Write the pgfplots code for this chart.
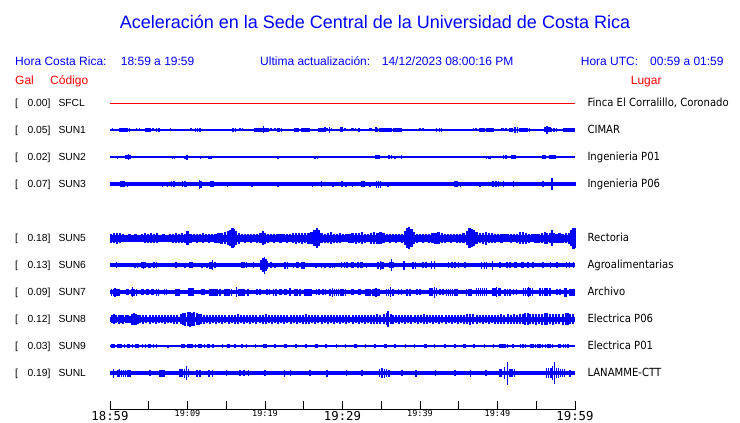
\documentclass[border=0pt]{standalone}
\usepackage{pgfplots}
\pgfplotsset{compat=1.18}
\usepackage{pgfplotstable}
\usepackage{fontspec}
\setmainfont{Liberation Sans}
\newfontfamily\rfont[FakeStretch=0.9]{DejaVu Sans}
\newfontfamily\tfont{DejaVu Sans Mono}
\newcommand\bigt[1]{\raisebox{0pt}[10.3pt][0pt]{\tfont\fontsize{12.3}{13}\selectfont #1}}
\newcommand\smt[1]{{\tfont\fontsize{8.5}{9}\selectfont #1}}

% half-amplitudes (px) of the bursts, time in minutes after 18:59
\pgfplotstableread[row sep=\\]{t a\\
0.3 1.5\\1.2 1.8\\1.4 1.8\\1.6 1.8\\1.8 1.8\\2.0 1.8\\2.2 1.7\\2.5 1.7\\3.45 1.5\\3.8 1.5\\4.6 1.8\\4.8 1.8\\5.0 1.8\\5.2 1.8\\5.55 1.5\\6.0 1.8\\6.3 1.8\\7.1 1.3\\7.8 1.5\\8.2 1.3\\8.9 1.3\\9.9 1.3\\10.45 1.5\\11.05 1.7\\11.3 1.7\\11.6 1.7\\12.5 1.4\\13.25 1.4\\13.85 1.4\\15.05 1.4\\15.9 1.7\\16.2 1.7\\16.8 1.5\\17.1 1.5\\17.75 1.4\\18.7 1.8\\18.95 1.8\\19.2 1.8\\19.4 1.8\\19.6 1.8\\19.8 3.5\\20.0 1.8\\20.2 1.8\\20.4 1.8\\20.7 1.5\\20.85 1.5\\21.3 1.5\\21.65 1.6\\21.9 1.6\\22.1 1.6\\22.45 1.4\\23.25 1.4\\23.4 1.4\\23.9 1.6\\24.1 1.6\\24.3 1.6\\24.75 1.8\\24.95 1.8\\25.15 1.8\\25.35 1.8\\25.55 1.8\\25.7 1.8\\26.2 1.3\\26.9 1.8\\27.1 1.8\\27.35 1.8\\27.5 1.8\\27.75 2.5\\28.0 1.5\\28.3 2.8\\28.6 1.5\\29.25 1.4\\29.8 2.5\\29.95 2.5\\30.3 1.5\\30.75 1.3\\31.2 1.5\\31.45 1.5\\31.7 1.5\\32.15 2.2\\32.7 1.3\\33.05 1.3\\33.55 1.5\\33.7 1.5\\34.3 2.5\\34.5 1.7\\34.8 1.7\\35.0 1.7\\35.2 1.6\\35.4 1.6\\35.6 1.6\\35.8 1.6\\36.0 1.6\\36.2 1.6\\36.35 1.6\\36.55 1.8\\36.75 1.8\\36.95 1.8\\37.15 1.8\\37.35 1.8\\37.55 1.8\\38.3 1.3\\38.6 1.3\\38.95 1.4\\39.3 1.4\\40.0 1.5\\40.4 1.5\\40.95 1.3\\41.3 1.3\\42.15 1.6\\42.5 1.6\\42.8 1.6\\43.45 1.3\\44.3 1.4\\44.6 1.4\\44.9 1.4\\45.4 1.3\\45.8 1.3\\46.0 1.3\\46.9 1.5\\47.2 1.5\\47.75 1.6\\47.95 1.6\\48.15 1.6\\48.35 1.6\\48.55 1.6\\48.75 1.6\\48.95 1.6\\49.15 1.6\\49.4 1.6\\50.55 1.5\\50.8 1.5\\51.1 1.5\\51.6 1.6\\51.9 1.6\\52.25 3\\52.6 3\\52.9 1.8\\53.15 1.8\\53.4 1.8\\53.65 1.8\\53.9 1.8\\54.15 1.8\\55.5 1.4\\55.9 1.4\\56.1 2.5\\56.4 4\\56.65 2.5\\56.85 2.5\\57.0 1.6\\57.3 1.6\\57.6 1.6\\58.05 1.3\\58.5 1.6\\58.7 1.6\\58.9 1.6\\59.1 1.6\\59.3 1.6\\59.5 1.6\\59.7 1.6\\59.9 1.6\\
}\sunone
\pgfplotstableread[row sep=\\]{t a\\
0.45 1.3\\0.95 1.5\\2.05 1.8\\2.3 1.8\\2.4 2.8\\2.6 1.8\\3.65 1.3\\8.05 1.5\\8.3 1.5\\9.7 1.5\\9.95 2.5\\10.55 1.3\\11.2 1.3\\11.7 1.5\\12.8 1.5\\13.0 1.5\\13.25 1.3\\13.55 1.3\\21.7 1.5\\25.7 1.3\\26.45 1.5\\26.75 1.5\\27.3 1.3\\28.8 1.3\\29.45 1.3\\29.95 1.3\\30.0 1.3\\34.3 1.8\\34.55 1.8\\34.8 1.8\\35.2 1.3\\36.0 1.8\\36.3 1.8\\36.8 1.5\\37.6 1.8\\48.2 1.3\\48.6 1.5\\48.9 1.5\\49.1 1.5\\49.5 1.3\\50.75 1.8\\51.1 1.8\\51.85 1.8\\52.1 1.8\\52.3 1.8\\55.85 1.8\\56.1 1.8\\56.8 1.8\\57.05 1.8\\57.3 1.8\\57.45 1.8\\58.3 1.3\\
}\suntwo
\pgfplotstableread[row sep=\\]{t a\\
1.4 3\\1.6 3\\1.8 3\\2.25 2.5\\6.75 2.5\\7.4 2.5\\7.95 2.8\\8.25 2.8\\9.35 3\\9.65 3\\9.9 2.5\\11.55 4.5\\11.75 3.5\\13.05 3\\13.3 3\\15.15 2.5\\18.35 2.5\\21.7 2.5\\26.1 2.5\\27.3 3\\28.8 2.5\\29.95 3\\30.45 2.5\\31.3 2.5\\32.5 2.8\\32.75 2.8\\33.55 2.5\\34.4 3.5\\34.65 3.5\\34.9 3.5\\35.9 2.5\\44.5 2.8\\44.8 2.8\\45.25 2.5\\47.75 2.5\\49.45 2.8\\49.8 2.8\\50.1 2.8\\50.75 2.8\\52.05 3\\55.9 3\\57.05 6\\57.4 2.3\\57.6 2.3\\57.8 2.3\\58.0 2.3\\58.2 2.3\\58.4 2.3\\58.6 2.3\\58.8 2.3\\59.0 2.3\\59.2 2.3\\59.4 2.3\\59.6 2.3\\59.8 2.3\\60.0 2.3\\
}\sunthree
\pgfplotstableread[row sep=\\]{t a\\
0.1 4.5\\0.5 5\\0.9 5.5\\1.3 5\\1.7 4\\2.1 3.5\\2.5 4\\2.9 3.5\\3.3 4\\3.7 3.5\\4.1 4\\4.5 5\\4.9 4.5\\5.3 5\\5.7 4.5\\6.1 5\\6.5 3.5\\6.9 4\\7.3 3.5\\7.7 4\\8.1 4.5\\8.5 5\\8.9 4.5\\9.3 5\\9.7 4.5\\10.0 7.3\\10.4 4.5\\10.8 4\\11.2 4.5\\11.6 4\\12.0 5\\12.4 4\\12.8 4.5\\13.2 4\\13.6 4.5\\14.0 5\\14.4 5.5\\14.8 6\\15.2 7\\15.5 8\\15.8 10\\16.0 9\\16.3 7\\16.6 5.5\\17.0 4\\17.4 4.5\\17.8 4\\18.2 4.5\\18.6 4\\19.0 4.5\\19.4 5\\19.7 7\\20.0 5.5\\20.4 4.5\\20.8 4\\21.2 4.5\\21.6 4\\22.0 4.5\\22.4 4\\22.8 4.5\\23.2 4\\23.6 5\\24.0 5.5\\24.4 5\\24.8 5.5\\25.2 5\\25.6 5.5\\26.0 6\\26.4 8\\26.7 10\\26.9 8\\27.3 5\\27.7 4.5\\28.1 5\\28.5 6\\28.9 4.5\\29.3 4.5\\29.7 5\\30.1 4\\30.5 4\\30.9 4.5\\31.3 5\\31.7 5.5\\32.1 5\\32.5 6\\32.9 4.5\\33.3 4\\33.7 5.5\\34.1 6\\34.5 5.5\\34.9 6\\35.3 5\\35.7 4\\36.1 4.5\\36.5 4\\36.9 4.5\\37.3 4\\37.7 4.5\\38.1 7\\38.4 10\\38.6 11\\38.9 9\\39.2 6\\39.6 4.5\\40.0 4\\40.4 4.5\\40.8 4\\41.2 4.5\\41.6 5\\42.0 5.5\\42.4 6\\42.8 5\\43.2 4.5\\43.6 4\\44.0 4.5\\44.4 4\\44.8 4.5\\45.2 4.5\\45.6 5\\46.1 7\\46.4 10\\46.7 9\\47.0 8\\47.3 6\\47.7 5\\48.1 5.5\\48.5 6.5\\48.9 5\\49.3 5\\49.7 4.5\\50.1 4\\50.5 4.5\\50.9 4\\51.3 4\\51.7 4.5\\52.1 4\\52.5 4.5\\52.9 6\\53.3 6\\53.7 5.5\\54.1 4.5\\54.5 4\\54.9 4.5\\55.3 4.5\\55.7 5\\56.1 6\\56.4 5.5\\56.8 5\\57.0 8\\57.3 5\\57.6 4.5\\58.0 5\\58.4 4.5\\58.8 5\\59.2 5.5\\59.5 8\\59.8 10.5\\60.0 10\\
}\sunfive
\pgfplotstableread[row sep=\\]{t a\\
0.86 3\\3.2 2.5\\3.55 2.5\\4.1 3\\4.3 3.5\\4.5 3\\4.95 2.5\\5.15 2.5\\5.7 3\\6.0 3\\8.5 3\\9.7 2.5\\10.3 3\\10.55 3\\11.9 2.5\\12.5 2.5\\12.9 3.5\\13.1 3.5\\13.2 5\\13.55 3\\17.0 3\\17.3 3\\17.6 3\\18.5 3\\19.5 5\\19.75 7\\19.95 8.5\\20.15 6\\20.35 4\\20.8 3\\21.3 2.5\\22.6 3.5\\22.9 3.5\\23.65 2.5\\24.1 3\\24.3 3\\24.75 3.5\\25.05 3.5\\26.55 2.5\\27.3 2.5\\27.75 2.5\\28.4 2.5\\28.7 2.5\\29.0 2.5\\29.9 3\\30.25 3\\30.55 3\\31.2 3\\31.4 3\\32.0 3\\32.3 3\\32.5 3\\33.1 2.5\\34.6 3.5\\34.9 4.5\\35.1 3.5\\35.25 3.5\\36.1 3\\36.35 6\\36.5 3\\37.95 4.5\\39.1 3.5\\39.4 3.5\\40.4 3\\40.8 3\\41.5 4\\41.9 4\\43.65 3\\44.1 3\\44.5 3\\44.95 3\\45.8 3\\47.95 3.5\\48.3 3.5\\48.6 3.5\\49.35 4.5\\50.3 3\\51.2 3\\51.6 3\\52.25 3\\52.45 3\\53.1 3\\53.3 3\\53.95 3\\54.6 3\\55.9 3\\56.85 3\\57.65 3\\58.9 3\\59.3 3\\59.8 3\\
}\sunsix
\pgfplotstableread[row sep=\\]{t a\\
0.2 3.5\\0.45 3.5\\0.65 4.5\\0.9 3.5\\1.15 3.5\\2.1 3\\2.35 3\\2.8 3.5\\2.9 5\\3.1 3.5\\3.4 3.5\\4.05 3\\4.25 3\\4.75 3\\4.9 3\\5.4 3\\5.6 3\\6.0 3.5\\6.25 3.5\\7.05 3\\7.3 3\\8.5 3.5\\8.7 3.5\\8.9 3.5\\10.1 4\\10.3 4\\10.5 4\\10.7 4\\11.85 3\\12.15 3\\12.9 3.5\\13.15 3.5\\13.4 3.5\\13.65 3.5\\13.9 3.5\\14.2 3.5\\14.85 3.5\\15.1 3.5\\15.35 3.5\\15.7 3.5\\16.35 5\\16.55 3.5\\16.8 3.5\\17.05 3.5\\17.3 3.5\\17.8 3.5\\18.95 3\\19.35 3\\20.25 3\\20.6 3\\21.1 3.5\\21.45 3.5\\21.95 3\\22.15 3\\22.6 3\\22.8 3\\23.2 4\\23.9 3.5\\24.15 3.5\\24.5 3.5\\25.15 3.5\\25.4 3.5\\25.65 3.5\\25.95 3.5\\26.65 3\\26.95 3\\27.5 3\\27.8 3\\28.4 3.5\\28.7 4.5\\28.95 3.5\\29.2 3.5\\29.5 3.5\\29.8 3.5\\30.05 3.5\\30.4 3.5\\31.2 3\\31.4 3\\32.05 3\\32.25 3\\33.05 3.5\\33.3 3.5\\33.55 3.5\\33.95 3.5\\34.2 3.5\\34.3 4.5\\34.55 3.5\\34.75 3.5\\35.7 3.5\\35.95 3.5\\36.2 5\\36.5 3.5\\37.2 3\\37.6 3\\38.3 3.5\\38.7 3.5\\39.6 3\\40.0 3\\41.3 4\\41.55 4\\41.85 5.5\\42.1 4\\42.6 3\\42.95 3\\43.45 3.5\\43.7 3.5\\43.95 3.5\\44.2 3.5\\44.5 3.5\\44.75 3.5\\46.0 3.5\\46.3 3.5\\46.6 3.5\\47.3 4\\47.55 4\\47.8 4\\48.05 4\\48.3 4\\48.6 4\\49.45 4\\49.7 4\\49.9 5\\50.1 4\\50.35 4\\51.0 3.5\\51.3 3.5\\51.6 3.5\\52.05 3\\52.45 3\\53.35 4\\53.6 4\\53.85 4\\54.0 5\\54.2 4\\54.5 4\\55.5 4\\55.8 4\\56.1 4\\56.4 4\\56.8 4\\57.65 3\\58.05 3\\58.7 4.5\\58.9 4.5\\59.35 3.5\\59.6 3.5\\59.85 3.5\\
}\sunseven
\pgfplotstableread[row sep=\\]{t a\\
0.2 4\\0.5 5\\0.8 4\\1.1 4.5\\1.4 4\\1.7 4.5\\2.0 4\\2.3 4\\2.6 3.5\\2.9 5.5\\3.1 6\\3.3 5.5\\3.6 4.5\\3.9 4\\4.3 4.5\\4.7 4\\5.1 4.5\\5.5 4\\5.9 4.5\\6.3 4\\6.7 4\\7.1 4.5\\7.5 4\\7.9 4\\8.3 4.5\\8.7 4.5\\9.1 5\\9.4 6\\9.7 6.5\\10.0 7\\10.3 7.5\\10.6 6.5\\10.9 7\\11.2 6\\11.5 5.5\\11.8 5\\12.1 4.5\\12.5 4\\12.9 4.5\\13.3 4\\13.7 4.5\\14.1 4\\14.5 4.5\\14.9 4\\15.3 4.5\\15.7 4\\16.1 4.5\\16.5 5\\16.9 4\\17.3 4.5\\17.7 4\\18.1 4.5\\18.5 4\\18.9 4.5\\19.3 4\\19.7 4.5\\20.1 5\\20.5 4\\20.9 4.5\\21.3 4\\21.7 4.5\\22.1 4\\22.5 4.5\\22.9 4\\23.3 4.5\\23.7 4\\24.1 4.5\\24.5 4\\24.9 4.5\\25.3 5\\25.7 4.5\\26.1 4\\26.5 4.5\\26.9 4\\27.3 4.5\\27.7 4\\28.1 4.5\\28.5 4\\28.9 4.5\\29.3 4\\29.7 4.5\\30.1 4\\30.5 4.5\\30.9 4\\31.3 4.5\\31.7 4\\32.1 4.5\\32.5 4\\32.9 4.5\\33.3 4\\33.7 4.5\\34.1 4.5\\34.5 5\\34.9 4.5\\35.3 5\\35.7 6\\35.9 8\\36.2 5\\36.5 4.5\\36.9 4\\37.3 4.5\\37.7 4\\38.1 4.5\\38.5 4\\38.9 4.5\\39.3 4\\39.7 4.5\\40.1 4\\40.5 5\\40.9 4.5\\41.3 4\\41.7 4.5\\42.1 4\\42.5 4.5\\42.9 4\\43.3 4.5\\43.7 4\\44.1 4.5\\44.5 4\\44.9 4.5\\45.3 4\\45.7 4.5\\46.1 5\\46.5 5.5\\46.9 5\\47.3 4.5\\47.7 4\\48.1 4.5\\48.5 4\\48.9 4.5\\49.3 4\\49.7 4.5\\50.1 4.5\\50.5 5\\50.9 4.5\\51.3 5\\51.7 4.5\\52.1 5\\52.5 4.5\\52.9 5\\53.3 5\\53.6 6\\53.9 6\\54.2 5\\54.6 5\\55.0 5.5\\55.4 5\\55.8 5.5\\56.1 6\\56.4 6\\56.8 5\\57.2 5.5\\57.6 5\\58.0 5\\58.4 5.5\\58.8 6\\59.1 6\\59.4 5\\59.8 5\\
}\suneight
\pgfplotstableread[row sep=\\]{t a\\
0.2 1.8\\0.4 1.8\\0.6 1.8\\1.0 1.8\\1.3 1.8\\1.5 1.8\\1.9 1.8\\2.3 1.8\\2.5 1.8\\2.9 1.8\\3.3 1.8\\3.5 1.8\\3.7 1.8\\4.2 1.8\\4.6 1.8\\5.0 1.8\\5.2 1.8\\5.6 1.8\\6.0 1.8\\7.5 1.5\\9.2 1.8\\9.4 1.8\\9.6 1.8\\10.0 1.8\\10.2 1.8\\10.4 1.8\\10.6 1.8\\11.0 1.8\\11.4 1.8\\11.6 1.8\\11.8 1.8\\12.2 1.8\\12.6 1.8\\12.8 1.8\\13.3 1.8\\14.5 1.6\\15.2 1.6\\15.4 1.6\\16.1 1.6\\17.0 1.6\\17.6 1.6\\18.8 1.6\\19.9 1.6\\20.1 1.6\\21.3 1.6\\22.6 1.6\\22.8 1.6\\24.0 1.6\\25.3 1.6\\26.5 1.6\\26.7 1.6\\27.9 1.6\\29.2 1.6\\30.4 1.6\\31.6 1.6\\31.8 1.6\\33.0 1.6\\34.2 1.6\\35.5 1.6\\35.7 1.6\\36.8 1.6\\38.1 1.6\\39.3 1.6\\40.6 1.6\\40.8 1.6\\41.9 1.6\\43.2 1.6\\44.5 1.6\\45.7 1.6\\45.9 1.6\\47.0 1.6\\48.3 1.6\\49.5 1.6\\50.3 1.8\\50.5 1.8\\50.7 1.8\\51.0 1.8\\51.3 1.8\\52.0 1.8\\53.0 1.8\\53.3 1.8\\53.6 1.8\\54.3 1.8\\54.6 1.8\\54.9 1.8\\55.2 1.8\\55.5 1.8\\55.8 1.8\\56.2 1.8\\56.5 1.8\\56.8 1.8\\57.1 1.8\\57.85 1.6\\58.05 1.6\\58.5 1.8\\58.8 1.8\\59.1 1.8\\
}\sunnine
\pgfplotstableread[row sep=\\]{t a\\
0.45 4.5\\1.0 3.5\\1.25 4\\1.5 3.5\\1.75 3.5\\2.0 3.5\\2.3 3.5\\2.55 3.5\\5.15 3\\6.45 3.5\\6.7 3.5\\6.95 3.5\\9.0 4\\9.3 4\\9.6 4.5\\9.85 7\\10.1 4\\11.2 3.5\\11.6 3.5\\12.8 3.5\\13.2 3.5\\15.05 3\\16.8 3\\17.3 3\\17.9 3\\20.0 3\\22.5 3.5\\23.3 3\\25.8 3\\28.0 3.5\\30.5 3\\32.5 3\\34.8 4\\35.1 5\\35.4 4.5\\35.7 4\\36.0 3.5\\37.7 3\\39.5 3.5\\42.0 3\\44.5 3\\46.5 3.5\\48.5 3\\50.3 4\\50.5 4\\50.9 6\\51.3 11.5\\51.6 4\\51.9 4\\52.2 4\\56.3 5\\56.6 5\\56.9 5\\57.1 7\\57.35 11\\57.6 5\\57.85 5\\58.1 4\\58.4 4\\58.65 4\\59.35 3.5\\
}\sunl

\begin{document}
\begin{tikzpicture}
\useasboundingbox (0,0) rectangle (740pt,423pt);
\begin{axis}[
  at={(110pt,13.5pt)}, anchor=south west,
  scale only axis, width=465pt, height=319.5pt,
  xmin=0, xmax=60, ymin=90, ymax=409.5, y dir=reverse,
  clip=false,
  axis x line*=bottom, axis y line=none,
  x axis line style={-, black, line width=0.8pt},
  xtick={0,10,...,60}, minor xtick={5,15,...,55},
  xticklabels={\bigt{18:59},\smt{19:09},\smt{19:19},\bigt{19:29},\smt{19:39},\smt{19:49},\bigt{19:59}},
  xticklabel style={anchor=north, inner sep=0pt, yshift=-0.6pt},
  tick align=inside, major tick length=9pt, minor tick length=9pt,
  tick style={black, line width=0.8pt},
  ytick=\empty,
  error bars/y dir=both, error bars/y explicit, error bars/error mark=none,
  error bars/error bar style={draw=blue, solid, line width=1.5pt},
]
% SFCL
\addplot[red, line width=0.9pt] coordinates {(0,103) (60,103)};
% base bands
\addplot[blue, line width=1.2pt] coordinates {(0,130) (60,130)};
\addplot[blue, line width=1.2pt] coordinates {(0,157) (60,157)};
\addplot[blue, line width=3.4pt] coordinates {(0,184) (60,184)};
\addplot[blue, line width=7pt] coordinates {(0,238) (60,238)};
\addplot[blue, line width=3.8pt] coordinates {(0,265) (60,265)};
\addplot[blue, line width=4.2pt] coordinates {(0,292) (60,292)};
\addplot[blue, line width=5pt] coordinates {(0,319) (60,319)};
\addplot[blue, line width=1.5pt] coordinates {(0,346) (60,346)};
\addplot[blue, line width=4.2pt] coordinates {(0,373) (60,373)};
% bursts
\addplot[draw=none] table[x=t, y expr=130, y error=a] {\sunone};
\addplot[draw=none] table[x=t, y expr=157, y error=a] {\suntwo};
\addplot[draw=none] table[x=t, y expr=184, y error=a] {\sunthree};
\addplot[draw=none, error bars/error bar style={draw=blue, solid, line width=2.3pt}] table[x=t, y expr=238, y error=a] {\sunfive};
\addplot[draw=none] table[x=t, y expr=265, y error=a] {\sunsix};
\addplot[draw=none] table[x=t, y expr=292, y error=a] {\sunseven};
\addplot[draw=none, error bars/error bar style={draw=blue, solid, line width=2pt}] table[x=t, y expr=319, y error=a] {\suneight};
\addplot[draw=none] table[x=t, y expr=346, y error=a] {\sunnine};
\addplot[draw=none] table[x=t, y expr=373, y error=a] {\sunl};
\end{axis}

% title and header
\node[blue, anchor=base, font=\fontsize{18}{20}\selectfont] at (375pt,394.5pt) {Aceleración en la Sede Central de la Universidad de Costa Rica};
\begin{scope}[every node/.style={anchor=base west, inner sep=0pt, font=\fontsize{12}{14}\selectfont}]
\node[blue] at (15pt,357.3pt) {Hora Costa Rica:};
\node[blue] at (120.7pt,357.3pt) {18:59 a 19:59};
\node[blue] at (260pt,357.3pt) {Ultima actualización:};
\node[blue] at (381.7pt,357.3pt) {14/12/2023 08:00:16 PM};
\node[blue] at (580.7pt,357.3pt) {Hora UTC:};
\node[blue] at (650pt,357.3pt) {00:59 a 01:59};
\node[red] at (15pt,338pt) {Gal};
\node[red] at (50pt,338pt) {Código};
\node[red] at (630.7pt,338pt) {Lugar};
\end{scope}

% station labels
\begin{scope}[every node/.style={anchor=base west, inner sep=0pt, font=\fontsize{10.3}{12}\selectfont}]
\foreach \yb/\v/\c in {316.3/0.00/SFCL, 289.3/0.05/SUN1, 262.3/0.02/SUN2, 235.3/0.07/SUN3, 181.3/0.18/SUN5, 154.3/0.13/SUN6, 127.3/0.09/SUN7, 100.3/0.12/SUN8, 73.3/0.03/SUN9, 46.3/0.19/SUNL}{
  \node at (15pt,\yb pt) {[};
  \node at (27.3pt,\yb pt) {\v]};
  \node at (58.3pt,\yb pt) {\c};
}
\end{scope}
\begin{scope}[every node/.style={anchor=base west, inner sep=0pt, font=\rfont\fontsize{11.2}{13}\selectfont}]
\node at (587.3pt,316.3pt) {Finca El Corralillo, Coronado};
\node at (587.3pt,289.3pt) {CIMAR};
\node at (587.3pt,262.3pt) {Ingenieria P01};
\node at (587.3pt,235.3pt) {Ingenieria P06};
\node at (587.3pt,181.3pt) {Rectoria};
\node at (587.3pt,154.3pt) {Agroalimentarias};
\node at (587.3pt,127.3pt) {Archivo};
\node at (587.3pt,100.3pt) {Electrica P06};
\node at (587.3pt,73.3pt) {Electrica P01};
\node at (587.3pt,46.3pt) {LANAMME-CTT};
\end{scope}
\end{tikzpicture}
\end{document}
